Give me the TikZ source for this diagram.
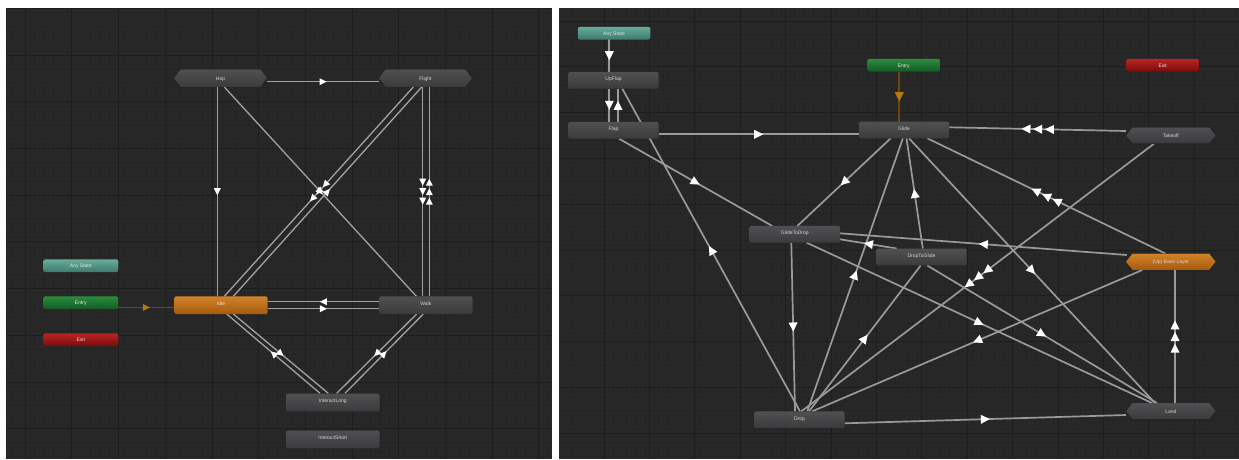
\documentclass[tikz,border=0pt]{standalone}
\usepackage{fontspec}
\setmainfont{Liberation Sans}
\usetikzlibrary{calc,decorations.markings}
\pgfdeclarelayer{bgl}
\pgfdeclarelayer{edl}
\pgfsetlayers{bgl,edl,main}
\definecolor{bgc}{HTML}{282828}
\definecolor{minc}{HTML}{252525}
\definecolor{majc}{HTML}{1D1D1D}
\definecolor{ntop}{HTML}{505052}
\definecolor{nbot}{HTML}{3B3B3D}
\definecolor{ntext}{HTML}{D6D6D6}
\definecolor{otop}{HTML}{D2822A}
\definecolor{obot}{HTML}{A65A0E}
\definecolor{ttop}{HTML}{67AC9B}
\definecolor{tbot}{HTML}{3D7B6D}
\definecolor{gtop}{HTML}{2B8D3D}
\definecolor{gbot}{HTML}{145A25}
\definecolor{rtop}{HTML}{BA2424}
\definecolor{rbot}{HTML}{7A0C0C}
\definecolor{lcol}{HTML}{A2A2A2}
\definecolor{rcol}{HTML}{9A9A9A}
\definecolor{entc}{HTML}{6B4810}
\definecolor{acol}{HTML}{B8780A}
\newcommand\fs{\fontsize{5}{6}\selectfont}
\tikzset{
  box/.style={rectangle, rounded corners=2pt, inner sep=0pt, font=\fs, text height=3.8pt, text depth=3.2pt},
  stL/.style={box, minimum width=93.4pt, minimum height=17.7pt},
  stR/.style={box, minimum width=90.4pt, minimum height=16.7pt},
  smL/.style={box, minimum width=75pt, minimum height=12.7pt, text height=3.6pt, text depth=0pt},
  smR/.style={box, minimum width=72.5pt, minimum height=12.7pt, text height=3.6pt, text depth=0pt},
  hexlbl/.style={rectangle, inner sep=0pt, font=\fs, text height=3.6pt, text depth=0pt},
  cgray/.style={top color=ntop, bottom color=nbot, text=ntext},
  corange/.style={top color=otop, bottom color=obot, text=white!92!black},
  cteal/.style={top color=ttop, bottom color=tbot, text=white!90!black},
  cgreen/.style={top color=gtop, bottom color=gbot, text=white!90!black},
  cred/.style={top color=rtop, bottom color=rbot, text=white!90!black},
  le/.style={draw=lcol, line width=1.3pt},
  re/.style={draw=rcol, line width=1.7pt},
  entL/.style={draw=entc, line width=1.3pt},
  entR/.style={draw=entc, line width=1.7pt},
  a1/.style 2 args={postaction=decorate, decoration={markings,
     mark=at position 0.5 with {\fill[#2] (#1,0) -- (-#1,#1) -- (-#1,-#1) -- cycle;}}},
  a3/.style 2 args={postaction=decorate, decoration={markings,
     mark=at position 0.5 with {\foreach \o in {-#1,0,#1}{\fill[white] ({\o+#2},0) -- ({\o-#2},#2) -- ({\o-#2},-#2) -- cycle;}}}},
}
% name, cx, cy, w, h, text, top, bottom
\newcommand\hexst[8]{%
  \fill[top color=#7, bottom color=#8] ({#2-#4/2},{#3}) -- ({#2-#4/2+6.5},{#3-#5/2}) -- ({#2+#4/2-6.5},{#3-#5/2}) -- ({#2+#4/2},{#3}) -- ({#2+#4/2-6.5},{#3+#5/2}) -- ({#2-#4/2+6.5},{#3+#5/2}) -- cycle;
  \node[hexlbl, text=ntext, minimum width=#4pt, minimum height=#5pt] (#1) at (#2,#3) {#6};}
\begin{document}
\begin{tikzpicture}[x=1pt,y=-1pt]
\useasboundingbox (0,0) rectangle (1239,459);
\begin{pgfonlayer}{bgl}
\fill[white] (0,0) rectangle (1239,459);
\fill[bgc] (6,8) rectangle (551.5,458.5);
\fill[bgc] (559,8) rectangle (1239,458.5);
\begin{scope}
\clip (6,8) rectangle (551.5,458.5);
\foreach \i in {-5,...,113} \draw[minc, line width=.5pt] ({25.1+\i*4.67},8) -- ({25.1+\i*4.67},458.5);
\foreach \i in {0,...,97} \draw[minc, line width=.5pt] (6,{8.3+\i*4.67}) -- (551.5,{8.3+\i*4.67});
\foreach \i in {0,...,11} \draw[majc, line width=.8pt] ({25.1+\i*46.7},8) -- ({25.1+\i*46.7},458.5);
\foreach \i in {0,...,10} \draw[majc, line width=.8pt] (6,{8.3+\i*46.7}) -- (551.5,{8.3+\i*46.7});
\end{scope}
\begin{scope}
\clip (559,8) rectangle (1239,458.5);
\foreach \i in {-11,...,140} \draw[minc, line width=.5pt] ({604+\i*4.54},8) -- ({604+\i*4.54},458.5);
\foreach \i in {-13,...,87} \draw[minc, line width=.5pt] (559,{66.7+\i*4.58}) -- (1239,{66.7+\i*4.58});
\foreach \i in {-1,...,14} \draw[majc, line width=.8pt] ({604+\i*45.4},8) -- ({604+\i*45.4},458.5);
\foreach \i in {-1,...,9} \draw[majc, line width=.8pt] (559,{66.7+\i*45.8}) -- (1239,{66.7+\i*45.8});
\end{scope}
\end{pgfonlayer}
% ---------- left panel nodes
\hexst{Hop}{220.5}{78.2}{93}{17.5}{Hop}{ntop}{nbot}
\hexst{Flight}{425.5}{78.2}{93}{17.5}{Flight}{ntop}{nbot}
\node[smL,cteal] (AnyL) at (80.8,265.7) {Any State};
\node[smL,cgreen] (EntL) at (80.8,302.7) {Entry};
\node[smL,cred] (ExL) at (80.8,339.7) {Exit};
\node[stL,corange] (Idle) at (221,305.2) {Idle};
\node[stL,cgray] (Walk) at (425.8,305.2) {Walk};
\node[stL,cgray] (IL) at (332.8,402.5) {InteractLong};
\node[stL,cgray] (IS) at (332.8,439.5) {InteractShort};
% ---------- right panel nodes
\node[smR,cteal] (AnyR) at (614,33.2) {Any State};
\node[stR,cgray] (UpFlap) at (613.5,80.3) {UpFlap};
\node[stR,cgray] (Flap) at (613.5,130.3) {Flap};
\node[smR,cgreen] (EntR) at (903.7,65.2) {Entry};
\node[stR,cgray] (Glide) at (904,130) {Glide};
\node[smR,cred] (ExR) at (1162.7,65.2) {Exit};
\hexst{Takeoff}{1170.8}{135.5}{89.7}{16.4}{Takeoff}{ntop}{nbot}
\node[stR,cgray] (G2D) at (794.8,234.3) {GlideToDrop};
\node[stR,cgray] (D2G) at (921.5,257) {DropToGlide};
\hexst{BL}{1170.8}{261.7}{89.7}{16.4}{(Up) Base Layer}{otop}{obot}
\node[stR,cgray] (Drop) at (799.5,419.8) {Drop};
\hexst{Land}{1170.8}{411.2}{89.7}{16.4}{Land}{ntop}{nbot}
% ---------- edges
\begin{pgfonlayer}{edl}
% left
\draw[le,a1={3.5}{white}] ($(Hop)+(46.5,3.5)$) -- ($(Flight)+(-46.5,3.5)$);
\draw[le,a1={3.5}{white}] ($(Hop)+(-3.2,8.8)$) -- ($(Idle)+(-3.7,-8.9)$);
\draw[le,a1={3.5}{white}] ($(Hop)+(3.8,8.8)$) -- ($(Walk)+(-9.4,-8.9)$);
\draw[le,a3={9.5}{3.5}] ($(Flight)+(-12.2,8.8)$) -- ($(Idle)+(3.3,-8.9)$);
\draw[le,a1={3.5}{white}] ($(Idle)+(12.3,-8.9)$) -- ($(Flight)+(-3.8,8.8)$);
\draw[le,a3={9.5}{3.5}] ($(Flight)+(-2.8,8.8)$) -- ($(Walk)+(-3.1,-8.9)$);
\draw[le,a3={9.5}{3.5}] ($(Walk)+(3.5,-8.9)$) -- ($(Flight)+(3.8,8.8)$);
\draw[le,a1={3.5}{white}] ($(Walk)+(-46.8,-3.5)$) -- ($(Idle)+(46.7,-3.5)$);
\draw[le,a1={3.5}{white}] ($(Idle)+(46.7,3.5)$) -- ($(Walk)+(-46.8,3.5)$);
\draw[le,a1={3.5}{white}] ($(IL)+(-12.8,-9.2)$) -- ($(Idle)+(5.7,8.8)$);
\draw[le,a1={3.5}{white}] ($(Idle)+(12.3,8.8)$) -- ($(IL)+(-4.5,-9.2)$);
\draw[le,a1={3.5}{white}] ($(Walk)+(-9.1,8.8)$) -- ($(IL)+(3.9,-9.2)$);
\draw[le,a1={3.5}{white}] ($(IL)+(12.2,-9.2)$) -- ($(Walk)+(-2.5,8.8)$);
\draw[entL,a1={3.5}{acol}] ($(EntL)+(37.5,4.8)$) -- ($(Idle)+(-46.7,2.3)$);
% right
\draw[re,a1={4.5}{white}] ($(AnyR)+(-4.7,6.1)$) -- ($(UpFlap)+(-4.2,-8.3)$);
\draw[re,a1={4.5}{white}] ($(UpFlap)+(-4.2,8.4)$) -- ($(Flap)+(-4.2,-8.3)$);
\draw[re,a1={4.5}{white}] ($(Flap)+(4.5,-8.3)$) -- ($(UpFlap)+(4.5,8.4)$);
\draw[re,a1={4.5}{white}] ($(Flap)+(45.2,4)$) -- ($(Glide)+(-45.3,4.3)$);
\draw[entR,a1={4.5}{acol}] ($(EntR)+(-4.4,6.5)$) -- ($(Glide)+(-4.7,-8.3)$);
\draw[re,a3={11.7}{4.5}] ($(Takeoff)+(-44.8,-4.5)$) -- ($(Glide)+(45.3,-2.7)$);
\draw[re,a3={11.7}{4.5}] ($(BL)+(-5.8,-8.4)$) -- ($(Glide)+(23.3,8.3)$);
\draw[re,a1={4.5}{white}] ($(Glide)+(-13.3,8.3)$) -- ($(G2D)+(2.5,-8.3)$);
\draw[re,a1={4.5}{white}] ($(Flap)+(5.5,8.4)$) -- ($(G2D)+(-22.5,-8.3)$);
\draw[re,a1={4.5}{white}] ($(Drop)+(0.5,-8.5)$) -- ($(UpFlap)+(8.8,8.4)$);
\draw[re,a1={4.5}{white}] ($(G2D)+(-3.5,8.4)$) -- ($(Drop)+(-4.5,-8.5)$);
\draw[re,a1={4.5}{white}] ($(Drop)+(7.8,-8.5)$) -- ($(Glide)+(-1.1,8.3)$);
\draw[re,a1={4.5}{white}] ($(D2G)+(1.3,-8.5)$) -- ($(Glide)+(2.5,8.3)$);
\draw[re,a1={4.5}{white}] ($(BL)+(-44.1,-6.7)$) -- ($(G2D)+(45.2,-1)$);
\draw[re,a1={4.5}{white}] ($(D2G)+(-24.8,-8.5)$) -- ($(G2D)+(45.2,5)$);
\draw[re,a3={11.7}{4.5}] ($(Takeoff)+(-16.8,8.2)$) -- ($(Drop)+(1.9,-8.5)$);
\draw[re,a1={4.5}{white}] ($(Glide)+(5,8.3)$) -- ($(Land)+(-15.8,-8.2)$);
\draw[re,a1={4.5}{white}] ($(G2D)+(11.9,8.4)$) -- ($(Land)+(-18.8,-8.2)$);
\draw[re,a1={4.5}{white}] ($(D2G)+(5.8,8.5)$) -- ($(Land)+(-13.8,-8.2)$);
\draw[re,a1={4.5}{white}] ($(BL)+(-28.5,8.3)$) -- ($(Drop)+(12.8,-8.5)$);
\draw[re,a1={4.5}{white}] ($(Drop)+(45.2,3.5)$) -- ($(Land)+(-44.8,3.8)$);
\draw[re,a3={11.7}{4.5}] ($(Land)+(4.2,-8.2)$) -- ($(BL)+(4.2,8.3)$);
\draw[re,a1={4.5}{white}] ($(Drop)+(9.5,-8.5)$) -- ($(D2G)+(-0.8,8.5)$);
\end{pgfonlayer}
\end{tikzpicture}
\end{document}
